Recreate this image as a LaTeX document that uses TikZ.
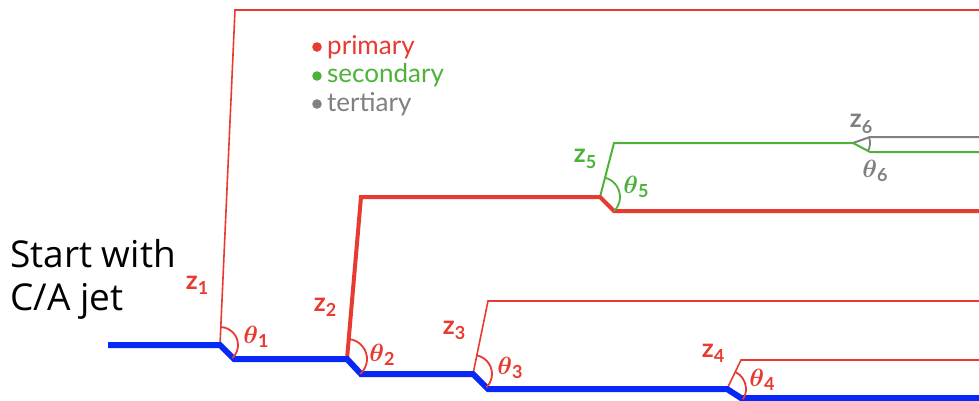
\documentclass[tikz,border=0pt]{standalone}
\usepackage{fontspec}
\setmainfont{Open Sans}
\newfontfamily\latof{Lato}
\definecolor{myred}{RGB}{232,58,48}
\definecolor{myblue}{RGB}{8,40,245}
\definecolor{mygreen}{RGB}{78,178,58}
\definecolor{mygrey}{RGB}{128,128,128}
\newcommand{\zl}[1]{{\latof\bfseries\fontsize{26}{26}\selectfont z\raisebox{-0.2em}{\fontsize{18}{18}\selectfont #1}}}
\newcommand{\tl}[1]{{\fontsize{29}{29}\selectfont\boldmath$\theta$\raisebox{-0.15em}{\latof\bfseries\fontsize{18}{18}\selectfont #1}}}
\begin{document}
\begin{tikzpicture}[x=1pt,y=-1pt,
  lab/.style={inner sep=0pt,anchor=center},
  bluejet/.style={draw=myblue,line width=6pt,line join=miter},
  redthin/.style={draw=myred,line width=1.6pt,line join=miter},
  redthick/.style={draw=myred,line width=4pt,line join=miter},
  greenl/.style={draw=mygreen,line width=2pt,line join=miter},
  greyl/.style={draw=mygrey,line width=2pt,line join=miter},
  anglearc/.style={line width=1.8pt},
  legtext/.style={inner sep=0pt,anchor=base west,font=\latof\fontsize{26}{26}\selectfont}]
\useasboundingbox (0,0) rectangle (979,401);
% corner coordinates
\coordinate (s0) at (108,345);
\coordinate (b1) at (220,345);
\coordinate (k1) at (234,359);
\coordinate (b2) at (347,359);
\coordinate (k2) at (361,374);
\coordinate (b3) at (473,374);
\coordinate (k3) at (488,389);
\coordinate (b4) at (727,389);
\coordinate (k4) at (741,398);
\coordinate (e0) at (985,398);
% branch 1
\coordinate (t1) at (235,10);
\coordinate (e1) at (985,10);
% branch 2
\coordinate (t2) at (361,197);
\coordinate (b5) at (600,197);
\coordinate (k5) at (614,211);
\coordinate (e2) at (985,211);
% branch 3
\coordinate (t3) at (488,301);
\coordinate (e3) at (985,301);
% branch 4
\coordinate (t4) at (741,360);
\coordinate (e4) at (985,360);
% branch 5 (green)
\coordinate (t5) at (614,143);
\coordinate (b6) at (853,143);
\coordinate (k6) at (870,152);
\coordinate (e5) at (985,152);
% branch 6 (grey)
\coordinate (t6) at (870,137);
\coordinate (e6) at (985,137);

% red thin branches
\draw[redthin] (b1) -- (t1) -- (e1);
\draw[redthin] (b3) -- (t3) -- (e3);
\draw[redthin] (b4) -- (t4) -- (e4);
% grey & green
\draw[greyl] (b6) -- (t6) -- (e6);
\draw[greenl] (b5) -- (t5) -- (b6) -- (k6) -- (e5);
% red thick
\draw[redthick] (b2) -- (t2) -- (b5) -- (k5) -- (e2);
% blue jet
\draw[bluejet] (s0) -- (b1) -- (k1) -- (b2) -- (k2) -- (b3) -- (k3) -- (b4) -- (k4) -- (e0);

% angle arcs
\draw[anglearc,myred] (b1) ++(-87.4:18) arc[start angle=-87.4,end angle=47,radius=18];
\draw[anglearc,myred] (b2) ++(-85:20) arc[start angle=-85,end angle=49,radius=20];
\draw[anglearc,myred] (b3) ++(-78.4:19) arc[start angle=-78.4,end angle=45,radius=19];
\draw[anglearc,myred] (b4) ++(-64:19) arc[start angle=-64,end angle=33,radius=19];
\draw[anglearc,mygreen] (b5) ++(-75:20) arc[start angle=-75,end angle=45,radius=20];
\draw[anglearc,mygrey] (b6) ++(-19:17) arc[start angle=-19,end angle=28,radius=17];

% z labels
\node[lab,text=myred] (z1) at (197,285) {\zl{1}};
\node[lab,text=myred] (z2) at (325,307) {\zl{2}};
\node[lab,text=myred] (z3) at (454,330) {\zl{3}};
\node[lab,text=myred] (z4) at (713,353) {\zl{4}};
\node[lab,text=mygreen] (z5) at (585,159) {\zl{5}};
\node[lab,text=mygrey] (z6) at (861,124) {\zl{6}};
% theta labels
\node[lab,text=myred] (th1) at (256,337) {\tl{1}};
\node[lab,text=myred] (th2) at (382,355) {\tl{2}};
\node[lab,text=myred] (th3) at (510,368) {\tl{3}};
\node[lab,text=myred] (th4) at (762,380) {\tl{4}};
\node[lab,text=mygreen] (th5) at (636,187) {\tl{5}};
\node[lab,text=mygrey] (th6) at (875,171) {\tl{6}};

% legend
\fill[myred] (317,47) circle (4.8);
\fill[mygreen] (317,76) circle (4.8);
\fill[mygrey] (317,104) circle (4.8);
\node[legtext,text=myred] (lp) at (327,55) {primary};
\node[legtext,text=mygreen] (ls) at (327,83) {secondary};
\node[legtext,text=mygrey] (lt) at (327,112) {tertiary};

% start text
\node[inner sep=0pt,anchor=base west,align=left,font=\fontsize{37}{43}\selectfont] (start) at (10,310) {Start with\\C/A jet};
\end{tikzpicture}
\end{document}
